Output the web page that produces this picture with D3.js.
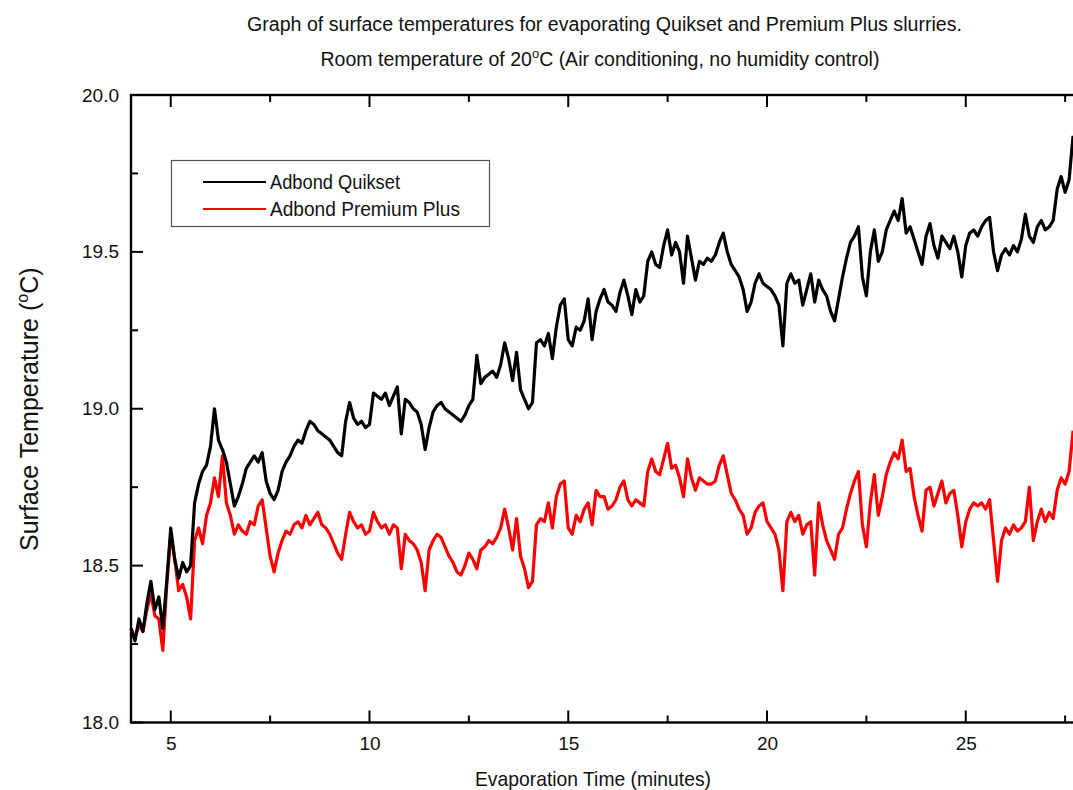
<!DOCTYPE html>
<html>
<head>
<meta charset="utf-8">
<script src="https://cdn.jsdelivr.net/npm/d3@7"></script>
<style>
	body { margin: 0; background: #ffffff; }
	svg { display: block; font-family: "Liberation Sans Narrow", "Liberation Sans", Arial, sans-serif; }
</style>
</head>
<body>
<div id="div_id_main"></div>
<script>

// sampling grid of the logger (minutes)
var fTime_Start = 4.0;
var fTime_Step = 0.1;

// Adbond Quikset, surface temperature (deg C), one value per 0.1 min from 4.0
var vQuikset = [
	18.30,18.26,18.33,18.29,18.38,18.45,18.36,18.40,18.30,18.45,
	18.62,18.52,18.46,18.51,18.48,18.50,18.70,18.76,18.80,18.82,
	18.88,19.00,18.90,18.87,18.83,18.76,18.69,18.72,18.76,18.81,
	18.83,18.85,18.83,18.86,18.77,18.73,18.71,18.74,18.80,18.83,
	18.85,18.88,18.90,18.89,18.93,18.96,18.95,18.93,18.92,18.91,
	18.90,18.88,18.86,18.85,18.96,19.02,18.97,18.95,18.96,18.94,
	18.95,19.05,19.04,19.03,19.05,19.01,19.04,19.07,18.92,19.03,
	19.02,19.00,18.99,18.95,18.87,18.94,18.99,19.01,19.02,19.00,
	18.99,18.98,18.97,18.96,18.98,19.01,19.03,19.17,19.08,19.10,
	19.11,19.12,19.10,19.14,19.21,19.16,19.09,19.18,19.06,19.03,
	19.00,19.02,19.21,19.22,19.20,19.24,19.16,19.26,19.33,19.35,
	19.22,19.20,19.26,19.25,19.28,19.35,19.22,19.31,19.35,19.38,
	19.34,19.33,19.31,19.37,19.41,19.36,19.30,19.38,19.34,19.36,
	19.47,19.50,19.46,19.45,19.52,19.57,19.49,19.53,19.50,19.40,
	19.55,19.48,19.41,19.47,19.46,19.48,19.47,19.49,19.53,19.56,
	19.50,19.46,19.44,19.42,19.38,19.31,19.34,19.40,19.43,19.40,
	19.39,19.38,19.36,19.33,19.20,19.40,19.43,19.40,19.41,19.33,
	19.38,19.43,19.34,19.41,19.38,19.36,19.31,19.28,19.35,19.42,
	19.48,19.53,19.55,19.58,19.42,19.36,19.50,19.57,19.47,19.50,
	19.57,19.60,19.63,19.60,19.67,19.56,19.58,19.54,19.50,19.46,
	19.55,19.59,19.52,19.48,19.55,19.53,19.51,19.55,19.50,19.42,
	19.52,19.56,19.57,19.55,19.58,19.60,19.61,19.50,19.44,19.49,
	19.51,19.49,19.52,19.50,19.54,19.62,19.55,19.53,19.58,19.60,
	19.57,19.58,19.60,19.70,19.74,19.69,19.73,19.87
];

// Adbond Premium Plus, surface temperature (deg C), same grid
var vPremiumPlus = [
	18.30,18.27,18.31,18.29,18.36,18.41,18.34,18.33,18.23,18.44,
	18.60,18.52,18.42,18.44,18.40,18.33,18.58,18.62,18.57,18.66,
	18.70,18.78,18.72,18.85,18.70,18.66,18.60,18.63,18.61,18.60,
	18.64,18.63,18.69,18.71,18.62,18.53,18.48,18.54,18.58,18.61,
	18.60,18.63,18.64,18.62,18.66,18.63,18.65,18.67,18.63,18.62,
	18.60,18.57,18.54,18.52,18.60,18.67,18.64,18.62,18.63,18.60,
	18.61,18.67,18.64,18.62,18.63,18.60,18.63,18.62,18.49,18.60,
	18.58,18.57,18.55,18.51,18.42,18.55,18.58,18.60,18.59,18.56,
	18.53,18.51,18.48,18.47,18.50,18.54,18.52,18.49,18.55,18.56,
	18.58,18.57,18.59,18.62,18.68,18.62,18.55,18.65,18.53,18.49,
	18.43,18.45,18.63,18.65,18.64,18.70,18.62,18.72,18.76,18.77,
	18.62,18.60,18.66,18.64,18.68,18.70,18.63,18.74,18.72,18.72,
	18.68,18.69,18.71,18.75,18.77,18.71,18.69,18.71,18.70,18.69,
	18.80,18.84,18.80,18.79,18.84,18.89,18.81,18.82,18.78,18.72,
	18.84,18.78,18.74,18.78,18.77,18.76,18.76,18.77,18.82,18.85,
	18.79,18.73,18.71,18.68,18.66,18.60,18.62,18.67,18.69,18.70,
	18.64,18.62,18.60,18.55,18.42,18.64,18.67,18.64,18.66,18.60,
	18.63,18.64,18.47,18.70,18.63,18.58,18.55,18.52,18.60,18.62,
	18.68,18.73,18.77,18.80,18.63,18.56,18.70,18.79,18.66,18.72,
	18.79,18.83,18.86,18.84,18.90,18.80,18.81,18.72,18.66,18.61,
	18.74,18.75,18.69,18.73,18.77,18.70,18.73,18.74,18.66,18.56,
	18.64,18.68,18.70,18.69,18.70,18.68,18.71,18.58,18.45,18.58,
	18.62,18.60,18.63,18.61,18.62,18.64,18.75,18.58,18.64,18.68,
	18.64,18.67,18.65,18.74,18.78,18.76,18.80,18.93
];

var vSeriesNames = ["Adbond Quikset", "Adbond Premium Plus"];
var vSeriesColors = ["#000000", "#ff0000"];

var vXTicks_Major = [5, 10, 15, 20, 25];
var vXTicks_Minor = [7.5, 12.5, 17.5, 22.5, 27.5];
var vYTicks_Major = [18.0, 18.5, 19.0, 19.5, 20.0];
var vYTicks_Minor = [18.25, 18.75, 19.25, 19.75];

var WIDTH = 1073;
var HEIGHT = 790;

var PLOT_LEFT = 131;
var PLOT_TOP = 95;
var PLOT_BOTTOM = 722.5;
var PX_PER_MINUTE = 39.75;

var FONT = "'Liberation Sans Narrow', 'Liberation Sans', Arial, sans-serif";

function funcDraw_Main() {

	let svgMain = d3.select("#div_id_main")
					.append("svg")
						.attr("width", WIDTH)
						.attr("height", HEIGHT);

	let fScale_X = d3.scaleLinear()
						.domain([4, 28])
						.range([PLOT_LEFT, PLOT_LEFT + 24 * PX_PER_MINUTE]);

	let fScale_Y = d3.scaleLinear()
						.domain([18, 20])
						.range([PLOT_BOTTOM, PLOT_TOP]);

	// ---------------------------------------------------------------

	let dsSeries = [vQuikset, vPremiumPlus].map(function (vValues) {
		return vValues.map(function (v, i) {
			return { "t": fTime_Start + i * fTime_Step, "v": v };
		});
	});

	let line = d3.line()
					.x(function (d) { return fScale_X(d.t); })
					.y(function (d) { return fScale_Y(d.v); });

	let gLines = svgMain.append("g");

	// red first, black drawn over it where they overlap
	for (let n = dsSeries.length - 1; n >= 0; n--) {

		gLines.append("path")
				.datum(dsSeries[n])
				.attr("d", line)
				.attr("fill", "none")
				.attr("stroke", vSeriesColors[n])
				.attr("stroke-width", 3.2)
				.attr("stroke-linejoin", "round");
	}

	// ---------------------------------------------------------------

	funcDraw_Axes(svgMain, fScale_X, fScale_Y);
	funcDraw_Legend(svgMain);
	funcDraw_Titles(svgMain);
}

function funcDraw_Axes(svgMain, fScale_X, fScale_Y) {

	let nMajor = 12;
	let nMinor = 7;

	let axisBottom = d3.axisBottom(fScale_X).tickValues(vXTicks_Major).tickSize(0).tickPadding(14).tickFormat(d3.format("d"));
	let axisLeft = d3.axisLeft(fScale_Y).tickValues(vYTicks_Major).tickSize(0).tickPadding(12).tickFormat(d3.format(".1f"));

	let gBottom = svgMain.append("g")
						.attr("transform", "translate(0," + PLOT_BOTTOM + ")")
						.call(axisBottom);

	let gLeft = svgMain.append("g")
						.attr("transform", "translate(" + PLOT_LEFT + ",0)")
						.call(axisLeft);

	[gBottom, gLeft].forEach(function (g) {
		g.select(".domain").remove();
		g.selectAll("text")
			.attr("font-family", FONT)
			.attr("font-size", "19px")
			.attr("fill", "#111");
	});

	// inward ticks on bottom and top
	let gTicks = svgMain.append("g")
						.attr("stroke", "#000")
						.attr("stroke-width", 2);

	vXTicks_Major.concat(vXTicks_Minor).forEach(function (t) {

		let nLen = (vXTicks_Major.indexOf(t) >= 0) ? nMajor : nMinor;

		gTicks.append("line")
				.attr("x1", fScale_X(t)).attr("x2", fScale_X(t))
				.attr("y1", PLOT_BOTTOM).attr("y2", PLOT_BOTTOM - nLen);

		gTicks.append("line")
				.attr("x1", fScale_X(t)).attr("x2", fScale_X(t))
				.attr("y1", PLOT_TOP).attr("y2", PLOT_TOP + nLen);
	});

	vYTicks_Major.concat(vYTicks_Minor).forEach(function (v) {

		let nLen = (vYTicks_Major.indexOf(v) >= 0) ? nMajor : nMinor;

		gTicks.append("line")
				.attr("x1", PLOT_LEFT).attr("x2", PLOT_LEFT + nLen)
				.attr("y1", fScale_Y(v)).attr("y2", fScale_Y(v));
	});

	// frame (right side falls outside the picture)
	svgMain.append("rect")
				.attr("x", PLOT_LEFT)
				.attr("y", PLOT_TOP)
				.attr("width", fScale_X(28) - PLOT_LEFT)
				.attr("height", PLOT_BOTTOM - PLOT_TOP)
				.attr("fill", "none")
				.attr("stroke", "#000")
				.attr("stroke-width", 2.4);
}

function funcDraw_Legend(svgMain) {

	let gLegend = svgMain.append("g");

	gLegend.append("rect")
				.attr("x", 171.5)
				.attr("y", 160.5)
				.attr("width", 318)
				.attr("height", 66)
				.attr("fill", "#fff")
				.attr("stroke", "#555")
				.attr("stroke-width", 1.2);

	for (let n = 0; n < vSeriesNames.length; n++) {

		let y = 182 + n * 27;

		gLegend.append("line")
				.attr("x1", 203).attr("x2", 266)
				.attr("y1", y).attr("y2", y)
				.attr("stroke", vSeriesColors[n])
				.attr("stroke-width", 2.2);

		gLegend.append("text")
				.attr("x", 270)
				.attr("y", y)
				.attr("dy", "0.35em")
				.attr("font-size", "20px")
				.attr("fill", "#111")
				.attr("textLength", n == 0 ? 130 : 190)
				.attr("lengthAdjust", "spacingAndGlyphs")
				.text(vSeriesNames[n]);
	}
}

function funcDraw_Titles(svgMain) {

	svgMain.append("text")
				.attr("x", 247)
				.attr("y", 31)
				.attr("font-size", "20px")
				.attr("fill", "#111")
				.attr("textLength", 715)
				.attr("lengthAdjust", "spacingAndGlyphs")
				.text("Graph of surface temperatures for evaporating Quikset and Premium Plus slurries.");

	// second line, superscript o inside the same text
	let txt2 = svgMain.append("text")
				.attr("x", 600)
				.attr("y", 66)
				.attr("text-anchor", "middle")
				.attr("font-size", "19.5px")
				.attr("fill", "#111");

	txt2.append("tspan").text("Room temperature of 20");
	txt2.append("tspan").attr("dy", -8).attr("font-size", "13px").text("o");
	txt2.append("tspan").attr("dy", 8).text("C (Air conditioning, no humidity control)");

	// y label, rotated
	let txtY = svgMain.append("text")
				.attr("transform", "translate(38,551) rotate(-90)")
				.attr("font-size", "25px")
				.attr("fill", "#111");

	txtY.append("tspan").text("Surface Temperature (");
	txtY.append("tspan").attr("dy", -10).attr("font-size", "16px").text("o");
	txtY.append("tspan").attr("dy", 10).text("C)");

	svgMain.append("text")
				.attr("x", 475)
				.attr("y", 786)
				.attr("font-size", "21px")
				.attr("fill", "#111")
				.attr("textLength", 236)
				.attr("lengthAdjust", "spacingAndGlyphs")
				.text("Evaporation Time (minutes)");
}

funcDraw_Main();

</script>
</body>
</html>
